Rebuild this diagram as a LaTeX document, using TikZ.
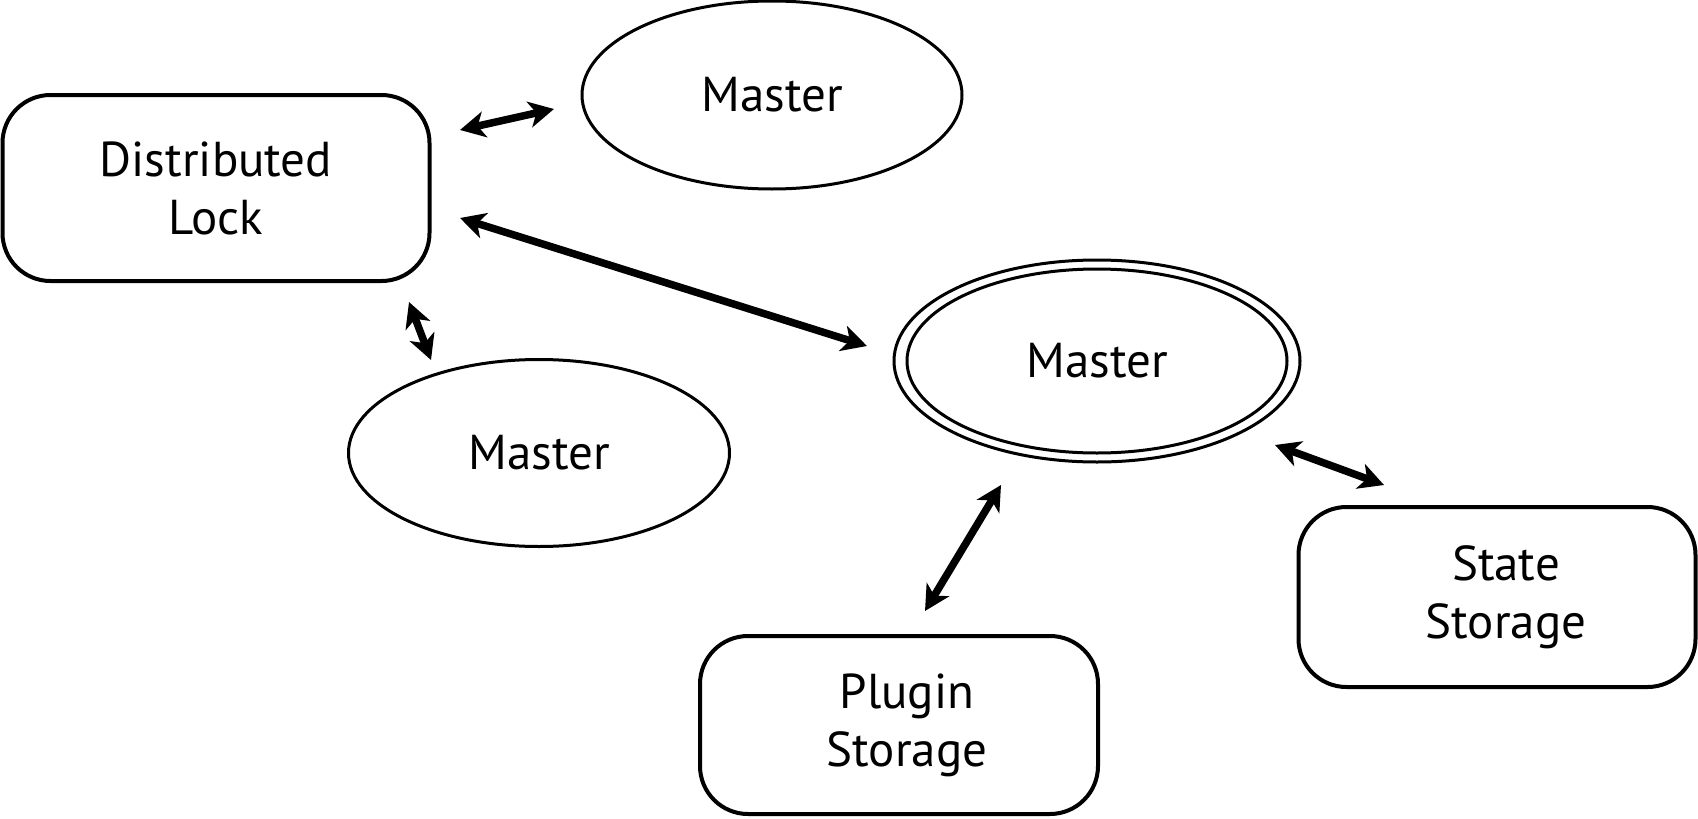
\documentclass[tikz,border=0pt]{standalone}
\usepackage{fontspec}
\setmainfont{PT Sans}
\usetikzlibrary{shapes.geometric,arrows.meta}
\begin{document}
\begin{tikzpicture}[x=1pt,y=-1pt,
  lbl/.style={font=\fontsize{49}{58}\selectfont, align=center},
  boxnode/.style={draw, line width=4pt, rounded corners=48pt, inner sep=0pt, lbl},
  ellnode/.style={draw, ellipse, line width=3pt, inner sep=0pt, lbl},
  link/.style={line width=7.5pt, {Stealth[length=25pt,width=26pt,inset=7pt]}-{Stealth[length=25pt,width=26pt,inset=7pt]}}
]
\useasboundingbox (0,0) rectangle (1698,819);
\node[boxnode, minimum width=427pt, minimum height=186pt] (lock) at (216,188) {Distributed\\Lock};
\node[ellnode, minimum width=380pt, minimum height=188pt] (m1) at (772,95) {Master};
\node[ellnode, minimum width=381pt, minimum height=187pt] (m2) at (539,453) {Master};
\node[ellnode, minimum width=380pt, minimum height=184pt] (m3) at (1097,361) {Master};
\node[draw, ellipse, line width=3pt, inner sep=0pt, minimum width=406pt, minimum height=202pt] (m3o) at (m3.center) {};
\node[boxnode, minimum width=397pt, minimum height=180pt] (state) at (1497,597) {\hspace*{18pt}State\\\hspace*{18pt}Storage};
\node[boxnode, minimum width=398pt, minimum height=178pt] (plugin) at (899,725) {\hspace*{16pt}Plugin\\\hspace*{16pt}Storage};
\coordinate (a1s) at (460,130); \coordinate (a1e) at (554,109);
\coordinate (a2s) at (460,218); \coordinate (a2e) at (867,346);
\coordinate (a3s) at (409,302); \coordinate (a3e) at (431,360);
\coordinate (a4s) at (1275,445); \coordinate (a4e) at (1384,485);
\coordinate (a5s) at (1001,485); \coordinate (a5e) at (925,611);
\draw[link] (a1s) -- (a1e);
\draw[link] (a2s) -- (a2e);
\draw[link] (a3s) -- (a3e);
\draw[link] (a4s) -- (a4e);
\draw[link] (a5s) -- (a5e);
\end{tikzpicture}
\end{document}
